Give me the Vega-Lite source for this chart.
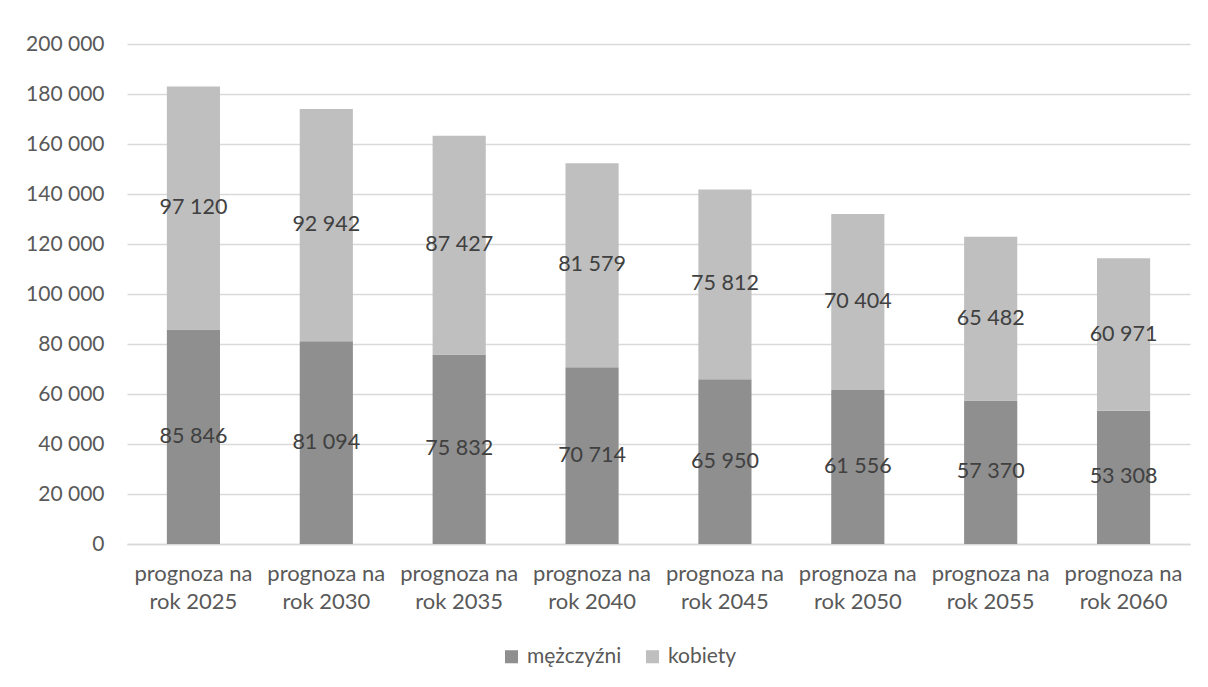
{
  "$schema": "https://vega.github.io/schema/vega-lite/v6.json",
  "width": 1063,
  "height": 500,
  "autosize": {"type": "none"},
  "padding": {"left": 127, "top": 44, "right": 18, "bottom": 143},
  "background": "white",
  "config": {
    "locale": {"number": {"decimal": ",", "thousands": " ", "grouping": [3], "currency": ["", " zł"]}},
    "font": "Lato",
    "view": {"stroke": null},
    "axis": {"labelFont": "Lato", "labelColor": "#595959", "labelFontSize": 21},
    "legend": {"labelFont": "Lato", "labelColor": "#595959", "labelFontSize": 21}
  },
  "data": {
    "values": [
      {"rok": "prognoza na rok 2025", "plec": "mężczyźni", "wartosc": 85846},
      {"rok": "prognoza na rok 2025", "plec": "kobiety", "wartosc": 97120},
      {"rok": "prognoza na rok 2030", "plec": "mężczyźni", "wartosc": 81094},
      {"rok": "prognoza na rok 2030", "plec": "kobiety", "wartosc": 92942},
      {"rok": "prognoza na rok 2035", "plec": "mężczyźni", "wartosc": 75832},
      {"rok": "prognoza na rok 2035", "plec": "kobiety", "wartosc": 87427},
      {"rok": "prognoza na rok 2040", "plec": "mężczyźni", "wartosc": 70714},
      {"rok": "prognoza na rok 2040", "plec": "kobiety", "wartosc": 81579},
      {"rok": "prognoza na rok 2045", "plec": "mężczyźni", "wartosc": 65950},
      {"rok": "prognoza na rok 2045", "plec": "kobiety", "wartosc": 75812},
      {"rok": "prognoza na rok 2050", "plec": "mężczyźni", "wartosc": 61556},
      {"rok": "prognoza na rok 2050", "plec": "kobiety", "wartosc": 70404},
      {"rok": "prognoza na rok 2055", "plec": "mężczyźni", "wartosc": 57370},
      {"rok": "prognoza na rok 2055", "plec": "kobiety", "wartosc": 65482},
      {"rok": "prognoza na rok 2060", "plec": "mężczyźni", "wartosc": 53308},
      {"rok": "prognoza na rok 2060", "plec": "kobiety", "wartosc": 60971}
    ]
  },
  "transform": [
    {"calculate": "indexof(['mężczyźni','kobiety'], datum.plec)", "as": "kolejnosc"},
    {"stack": "wartosc", "groupby": ["rok"], "sort": [{"field": "kolejnosc", "order": "ascending"}], "as": ["v0", "v1"]},
    {"calculate": "(datum.v0 + datum.v1) / 2", "as": "srodek"}
  ],
  "encoding": {
    "x": {
      "field": "rok", "type": "nominal", "sort": null,
      "scale": {"paddingInner": 0.6, "paddingOuter": 0.3},
      "axis": {
        "title": null, "labelAngle": 0, "ticks": false,
        "domainColor": "#d9d9d9", "domainWidth": 1.5,
        "labelPadding": 19, "labelLineHeight": 28, "labelFontSize": 22,
        "labelExpr": "['prognoza na', substring(datum.label, 12)]"
      }
    }
  },
  "layer": [
    {
      "mark": {"type": "bar"},
      "encoding": {
        "y": {
          "field": "v0", "type": "quantitative",
          "scale": {"domain": [0, 200000], "nice": false},
          "axis": {
            "title": null, "values": [0, 20000, 40000, 60000, 80000, 100000, 120000, 140000, 160000, 180000, 200000],
            "format": ",d", "domain": false, "ticks": false, "labelPadding": 23,
            "gridColor": "#d9d9d9", "gridWidth": 1.5
          }
        },
        "y2": {"field": "v1"},
        "color": {
          "field": "plec", "type": "nominal",
          "scale": {"domain": ["mężczyźni", "kobiety"], "range": ["#8f8f8f", "#bfbfbf"]},
          "legend": {
            "title": null, "orient": "none", "direction": "horizontal",
            "legendX": 374, "legendY": 602, "symbolType": "square", "symbolSize": 170,
            "symbolStrokeWidth": 0, "columnPadding": 20, "labelOffset": 5
          }
        }
      }
    },
    {
      "mark": {"type": "text", "fontSize": 21.5, "color": "#404040", "font": "Lato"},
      "encoding": {
        "y": {"field": "srodek", "type": "quantitative"},
        "text": {"field": "wartosc", "type": "quantitative", "format": ",d"}
      }
    }
  ]
}
